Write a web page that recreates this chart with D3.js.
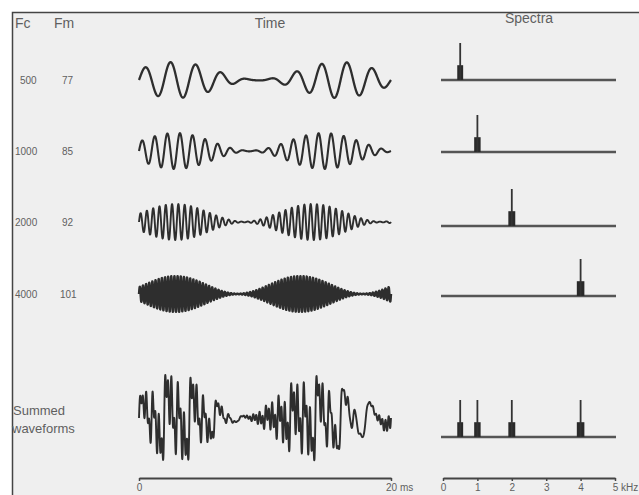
<!DOCTYPE html>
<html>
<head>
<meta charset="utf-8">
<script src="https://cdn.jsdelivr.net/npm/d3@7"></script>
<style>
  html, body { margin: 0; padding: 0; background: #fff; }
  svg { display: block; }
  text { font-family: "Liberation Sans", Arial, sans-serif; fill: #5f5f5f; }
</style>
</head>
<body>
<svg id="chart" width="639" height="495"></svg>
<script>
// Carrier and modulation frequencies (Hz) of the four AM tones
const carrierHz = [500, 1000, 2000, 4000];
const modulatorHz = [77, 85, 92, 101];
// Modulation depth and time (ms) of the envelope maximum
const modDepth = [0.96, 0.96, 0.96, 0.96];
const envelopePeakMs = [2.9, 2.9, 2.9, 2.9];
// Relative spectral levels: carrier and each side band
const carrierLevel = [1, 1, 1, 1];
const sidebandLevel = [0.4, 0.4, 0.4, 0.4];
// Axis ticks
const timeTicksMs = [0, 20];
const freqTicksKHz = [0, 1, 2, 3, 4, 5];

const svg = d3.select("#chart");
const W = 639, H = 495;

// panel background and frame
svg.append("rect").attr("x", 12).attr("y", 12).attr("width", W - 12).attr("height", H - 12)
  .attr("fill", "#efefef");
svg.append("path").attr("d", `M12.5,${H} V12.5 H${W}`)
  .attr("fill", "none").attr("stroke", "#444").attr("stroke-width", 1.5);

// headers
const hdr = [["Fc", 15, 28, "start"], ["Fm", 54, 28, "start"], ["Time", 270, 28, "middle"], ["Spectra", 529, 23, "middle"]];
svg.selectAll("text.hdr").data(hdr).join("text").attr("class", "hdr")
  .attr("x", d => d[1]).attr("y", d => d[2]).attr("text-anchor", d => d[3])
  .attr("font-size", 14).text(d => d[0]);

// scales
const x = d3.scaleLinear().domain([0, 20]).range([139, 391]);
const f = d3.scaleLinear().domain([0, 5]).range([443, 615]);
const rowWaveY = [80, 151, 222, 294];
const rowSpecY = [80, 152, 226, 296];
const sumWaveY = 418, sumSpecY = 437;
const waveAmp = 18;
const specH = d3.scaleLinear().domain([0, 1]).range([0, 37]);

// time samples
const N = 2400;
const times = d3.range(N + 1).map(i => 20 * i / N);
function tone(k, tMs) {
  const t = tMs / 1000;
  const env = (1 + modDepth[k] * Math.cos(2 * Math.PI * modulatorHz[k] * (tMs - envelopePeakMs[k]) / 1000)) / (1 + modDepth[k]);
  return env * Math.sin(2 * Math.PI * carrierHz[k] * t);
}

const waveColor = "#2e2e2e";
const waveWidth = [2.3, 2.1, 1.9, 2.4];

carrierHz.forEach((fc, k) => {
  // labels
  svg.append("text").attr("x", fc < 1000 ? 20 : 15).attr("y", rowWaveY[k] + 4)
    .attr("font-size", 10).text(fc);
  svg.append("text").attr("x", modulatorHz[k] > 99 ? 60 : 62).attr("y", rowWaveY[k] + 4)
    .attr("font-size", 10).text(modulatorHz[k]);

  // waveform
  const y = d3.scaleLinear().domain([-1, 1]).range([rowWaveY[k] + waveAmp, rowWaveY[k] - waveAmp]);
  const line = d3.line().x(t => x(t)).y(t => y(tone(k, t)));
  svg.append("path").datum(times).attr("d", line)
    .attr("fill", "none").attr("stroke", waveColor)
    .attr("stroke-width", waveWidth[k]).attr("stroke-linejoin", "round");

  drawSpectrum([k], rowSpecY[k]);
});

// spectrum: baseline, side-band pair and carrier line
function drawSpectrum(ks, y0) {
  const g = svg.append("g");
  g.append("line").attr("x1", f(0) - 2).attr("x2", f(5) + 1).attr("y1", y0).attr("y2", y0)
    .attr("stroke", "#555").attr("stroke-width", 2.4);
  ks.forEach(k => {
    const fc = carrierHz[k] / 1000, fm = modulatorHz[k] / 1000;
    g.append("rect").attr("x", f(fc - fm) - 0.3).attr("width", f(fc + fm) - f(fc - fm) + 0.6)
      .attr("y", y0 - specH(sidebandLevel[k])).attr("height", specH(sidebandLevel[k]))
      .attr("fill", "#2a2a2a");
    g.append("line").attr("x1", f(fc)).attr("x2", f(fc))
      .attr("y1", y0).attr("y2", y0 - specH(carrierLevel[k]))
      .attr("stroke", "#333").attr("stroke-width", 1.8);
  });
}

// summed waveform
const sum = times.map(t => carrierHz.reduce((s, _, k) => s + tone(k, t), 0));
const maxAbs = d3.max(sum, v => Math.abs(v));
const ySum = d3.scaleLinear().domain([-maxAbs, maxAbs]).range([sumWaveY + 43, sumWaveY - 43]);
svg.append("path").datum(times.map((t, i) => [t, sum[i]]))
  .attr("d", d3.line().x(d => x(d[0])).y(d => ySum(d[1])))
  .attr("fill", "none").attr("stroke", waveColor).attr("stroke-width", 1.9)
  .attr("stroke-linejoin", "round");
drawSpectrum([0, 1, 2, 3], sumSpecY);

svg.append("text").attr("x", 13).attr("y", 415).attr("font-size", 13).text("Summed");
svg.append("text").attr("x", 12).attr("y", 433).attr("font-size", 13).text("waveforms");

// axes
function styleAxis(g) {
  g.select(".domain").attr("stroke", "#444").attr("stroke-width", 2);
  g.selectAll(".tick line").attr("stroke", "#444").attr("stroke-width", 1.5);
  g.selectAll(".tick text").attr("fill", "#5f5f5f").attr("font-size", 10)
    .attr("font-family", "Liberation Sans, Arial, sans-serif");
}
const tAxis = svg.append("g").attr("transform", "translate(0,478)")
  .call(d3.axisBottom(x).tickValues(timeTicksMs).tickSize(3).tickSizeOuter(0).tickPadding(3)
    .tickFormat(d => d === 20 ? d + " ms" : d));
styleAxis(tAxis);
tAxis.selectAll(".tick text").filter(d => d === 20).attr("text-anchor", "start").attr("dx", "-0.55em");

const fAxis = svg.append("g").attr("transform", "translate(0,478)")
  .call(d3.axisBottom(f).tickValues(freqTicksKHz).tickSize(3).tickSizeOuter(0).tickPadding(3)
    .tickFormat(d => d === 5 ? d + " kHz" : d));
styleAxis(fAxis);
fAxis.selectAll(".tick text").filter(d => d === 5).attr("text-anchor", "start").attr("dx", "-0.28em");
</script>
</body>
</html>
